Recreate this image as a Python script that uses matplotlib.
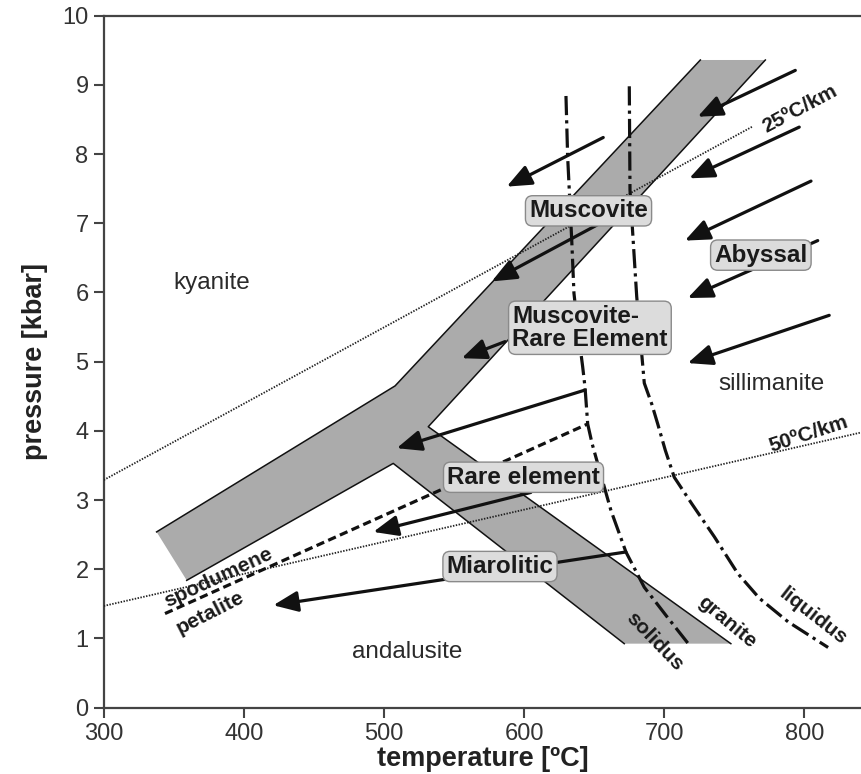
import matplotlib
matplotlib.use("Agg")
import matplotlib.pyplot as plt

plt.rcParams['font.family'] = ['Liberation Sans', 'DejaVu Sans']

# grey field: muscovite band with rare-element / miarolitic branches (T in C, P in kbar)
band_T = [725.8, 772.2, 531.6, 747.6, 671.5, 506.6, 359.2, 337.7, 507.9]
band_P = [9.36, 9.36, 4.06, 0.925, 0.925, 3.53, 1.84, 2.54, 4.65]

# granite solidus and liquidus
solidus_T = [629.9, 631.1, 634.0, 635.6, 638.5, 641.8, 643.5, 645.4, 648.5, 652.5,
             662.0, 672.7, 685.8, 701.8, 717.0]
solidus_P = [8.84, 7.96, 6.76, 5.99, 5.45, 4.93, 4.63, 4.10, 3.82, 3.53,
             2.85, 2.25, 1.74, 1.32, 0.93]
liquidus_T = [675.1, 675.6, 680.4, 685.8, 691.1, 695.4, 700.8, 707.2, 719.6, 735.8,
              752.5, 768.0, 788.5, 817.0]
liquidus_P = [8.98, 7.48, 5.94, 4.69, 4.39, 4.10, 3.72, 3.33, 2.95, 2.47,
              1.94, 1.58, 1.24, 0.87]

# spodumene / petalite boundary
spod_T = [343.7, 645.4]
spod_P = [1.36, 4.10]

# geothermal gradients
grad25_T = [300, 763.2]
grad25_P = [3.29, 8.40]
grad50_T = [300, 841.2]
grad50_P = [1.47, 3.98]

# arrows: tail -> head
arrow_tail_T = [656.5, 793.6, 796.4, 804.8, 809.6, 817.8, 652.5, 586.4, 643.5, 604.8, 672.7]
arrow_tail_P = [8.24, 9.21, 8.39, 7.61, 6.75, 5.67, 6.98, 5.29, 4.59, 3.11, 2.25]
arrow_head_T = [587.6, 723.9, 717.9, 714.8, 716.8, 716.8, 576.9, 555.5, 509.1, 492.4, 421.0]
arrow_head_P = [7.53, 8.54, 7.65, 6.75, 5.92, 4.98, 6.16, 5.05, 3.75, 2.54, 1.48]

# pegmatite class labels
class_names = ['Muscovite', 'Abyssal', 'Muscovite-\nRare Element', 'Rare element', 'Miarolitic']
class_T = [646.0, 769.0, 647.0, 599.6, 582.8]
class_P = [7.18, 6.54, 5.49, 3.33, 2.04]

# Al2SiO5 fields
field_names = ['kyanite', 'sillimanite', 'andalusite']
field_T = [377.0, 776.6, 516.4]
field_P = [6.13, 4.68, 0.80]

fig = plt.figure(figsize=(8.62, 7.74), dpi=100)
ax = fig.add_axes([0.1204, 0.0857, 0.8796, 0.894])
ax.set_xlim(300, 841.2)
ax.set_ylim(0, 10)

# band fill, outlined only along its long sides
ax.fill(band_T, band_P, facecolor='#ababab', edgecolor='none', zorder=1)
for idx in ([1, 2, 3], [4, 5, 6], [7, 8, 0]):
    ax.plot([band_T[i] for i in idx], [band_P[i] for i in idx], color='#111111', lw=1.1, zorder=2)

ax.plot(grad25_T, grad25_P, color='#222222', lw=1.3, ls=(0, (0.8, 0.8)), zorder=3)
ax.plot(grad50_T, grad50_P, color='#222222', lw=1.3, ls=(0, (0.8, 0.8)), zorder=3)

dashdot = (0, (6.0, 1.6, 1.0, 1.6))
ax.plot(solidus_T, solidus_P, color='#111111', lw=2.3, ls=dashdot, zorder=3)
ax.plot(liquidus_T, liquidus_P, color='#111111', lw=2.3, ls=dashdot, zorder=3)
ax.plot(spod_T, spod_P, color='#111111', lw=2.3, ls=(0, (2.6, 1.4)), zorder=3)

for t0, p0, t1, p1 in zip(arrow_tail_T, arrow_tail_P, arrow_head_T, arrow_head_P):
    ax.annotate('', xy=(t1, p1), xytext=(t0, p0),
                arrowprops=dict(arrowstyle='-|>,head_length=1.0,head_width=0.42',
                                mutation_scale=15, lw=2.3, color='#111111',
                                shrinkA=0, shrinkB=0),
                zorder=4)

for name, t, p in zip(class_names, class_T, class_P):
    ax.text(t, p, name, ha='center', va='center', fontsize=17.5, fontweight='bold',
            color='#1a1a1a', linespacing=1.0, multialignment='left', zorder=5,
            bbox=dict(boxstyle='round,pad=0.15,rounding_size=0.3', facecolor='#dcdcdc',
                      edgecolor='#8a8a8a', lw=1.0))

for name, t, p in zip(field_names, field_T, field_P):
    ax.text(t, p, name, ha='center', va='center', fontsize=17.5, color='#2a2a2a', zorder=5)

rot_style = dict(ha='center', va='center', fontsize=15, fontweight='bold',
                 color='#1a1a1a', rotation_mode='anchor', zorder=5)
ax.text(797.1, 8.65, '25ºC/km', rotation=28, **rot_style)
ax.text(802.9, 3.96, '50ºC/km', rotation=18, **rot_style)
ax.text(381.7, 1.88, 'spodumene', rotation=25, **rot_style)
ax.text(375.8, 1.37, 'petalite', rotation=27, **rot_style)
ax.text(693.4, 0.95, 'solidus', rotation=-46, **rot_style)
ax.text(744.6, 1.24, 'granite', rotation=-40, **rot_style)
ax.text(806.4, 1.32, 'liquidus', rotation=-38, **rot_style)

ax.set_xticks([300, 400, 500, 600, 700, 800])
ax.set_yticks(range(0, 11))
ax.tick_params(direction='out', length=7, width=1.5, color='#444444',
               labelsize=17, labelcolor='#333333', pad=4)
for side in ('left', 'bottom', 'top'):
    ax.spines[side].set_linewidth(1.6)
    ax.spines[side].set_color('#444444')
ax.spines['right'].set_visible(False)

ax.set_xlabel('temperature [ºC]', fontsize=19.5, fontweight='bold', color='#222222', labelpad=1)
ax.set_ylabel('pressure [kbar]', fontsize=19.5, fontweight='bold', color='#222222', labelpad=10)

fig.savefig('out.png', dpi=100)
